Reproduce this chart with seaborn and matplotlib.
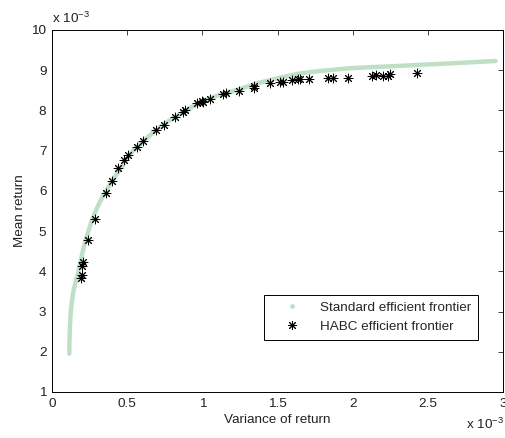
import matplotlib
matplotlib.use("Agg")
import matplotlib.pyplot as plt
from matplotlib.lines import Line2D
import pandas as pd
import seaborn as sns

# standard efficient frontier, variance and mean both in units of 1e-3
std_var = [0.115, 0.116, 0.118, 0.121, 0.125, 0.132, 0.142, 0.158, 0.177, 0.19,
           0.205, 0.222, 0.242, 0.264, 0.29, 0.322, 0.36, 0.40, 0.445, 0.49,
           0.54, 0.61, 0.69, 0.78, 0.89, 0.98, 1.10, 1.24, 1.36, 1.50,
           1.65, 1.78, 1.98, 2.15, 2.32, 2.48, 2.65, 2.80, 2.95]
std_mean = [1.95, 2.25, 2.5, 2.75, 3.0, 3.25, 3.5, 3.75, 4.0, 4.25,
            4.5, 4.75, 5.0, 5.25, 5.5, 5.75, 6.0, 6.25, 6.5, 6.75,
            7.0, 7.25, 7.5, 7.75, 8.0, 8.2, 8.37, 8.52, 8.67, 8.8,
            8.92, 8.98, 9.05, 9.08, 9.11, 9.14, 9.17, 9.20, 9.23]

# HABC efficient frontier
habc_var = [0.195, 0.200, 0.202, 0.208, 0.240, 0.288, 0.359, 0.401, 0.441, 0.479,
            0.503, 0.563, 0.608, 0.692, 0.745, 0.818, 0.874, 0.885, 0.963, 0.996,
            1.007, 1.051, 1.140, 1.158, 1.246, 1.346, 1.346, 1.450, 1.517, 1.535,
            1.595, 1.639, 1.650, 1.712, 1.834, 1.872, 1.967, 2.127, 2.156, 2.200,
            2.238, 2.249, 2.426]
habc_mean = [3.84, 3.91, 4.13, 4.24, 4.79, 5.31, 5.94, 6.25, 6.56, 6.77,
             6.89, 7.08, 7.24, 7.51, 7.65, 7.83, 7.97, 8.01, 8.18, 8.23,
             8.22, 8.28, 8.40, 8.43, 8.48, 8.57, 8.62, 8.67, 8.70, 8.71,
             8.76, 8.77, 8.77, 8.77, 8.81, 8.81, 8.81, 8.86, 8.88, 8.86,
             8.86, 8.91, 8.92]

x_ticks = [0, 0.5, 1, 1.5, 2, 2.5, 3]
x_labels = ["0", "0.5", "1", "1.5", "2", "2.5", "3"]
y_ticks = [1, 2, 3, 4, 5, 6, 7, 8, 9, 10]

sns.set_style("white")
plt.rcParams["font.family"] = ["Liberation Sans", "DejaVu Sans"]
plt.rcParams["mathtext.fontset"] = "custom"
plt.rcParams["mathtext.rm"] = "Liberation Sans"

green = "#bfe0c5"
txt = "#222222"
fs = 9.7

fig = plt.figure(figsize=(5.05, 4.38), dpi=100)
ax = fig.add_axes([52 / 505, 46 / 438, 451 / 505, 362 / 438])

std = pd.DataFrame({"var": std_var, "mean": std_mean})
habc = pd.DataFrame({"var": habc_var, "mean": habc_mean})

sns.lineplot(data=std, x="var", y="mean", sort=False, color=green,
             linewidth=3.2, solid_capstyle="round", ax=ax)
sns.scatterplot(data=habc, x="var", y="mean", marker=(8, 2, 0), color="black",
                s=40, linewidth=0.7, ax=ax, zorder=3)

ax.set_xlim(0, 3)
ax.set_ylim(1, 10)
ax.set_xticks(x_ticks)
ax.set_xticklabels(x_labels)
ax.set_yticks(y_ticks)
ax.set_yticklabels([str(v) for v in y_ticks])
ax.tick_params(direction="in", top=True, right=True, length=3.5, width=0.6,
               labelsize=fs, colors=txt, pad=4)
for s in ax.spines.values():
    s.set_color("black")
    s.set_linewidth(0.7)

ax.set_xlabel("Variance of return", fontsize=fs, color=txt, labelpad=3)
ax.set_ylabel("Mean return", fontsize=fs, color=txt, labelpad=4)

fig.text(52 / 505, 1 - 23 / 438, "x 10$^{-3}$", fontsize=fs, color=txt, va="baseline")
fig.text(466 / 505, 1 - 429 / 438, "x 10$^{-3}$", fontsize=fs, color=txt, va="baseline")

handles = [
    Line2D([], [], linestyle="none", marker="o", markersize=3.5, color=green,
           markeredgewidth=0),
    Line2D([], [], linestyle="none", marker=(8, 2, 0), markersize=6.3,
           color="black", markeredgewidth=0.7),
]
ax.legend(handles, ["Standard efficient frontier", "HABC efficient frontier"],
          loc="lower right", bbox_to_anchor=(0.944, 0.144), borderaxespad=0,
          frameon=True, fancybox=False, edgecolor="black", framealpha=1,
          fontsize=fs, borderpad=0.5, handlelength=3.2, handletextpad=0.45,
          labelspacing=0.5)
ax.legend_.get_frame().set_linewidth(0.7)

fig.savefig("out.png", dpi=100)
